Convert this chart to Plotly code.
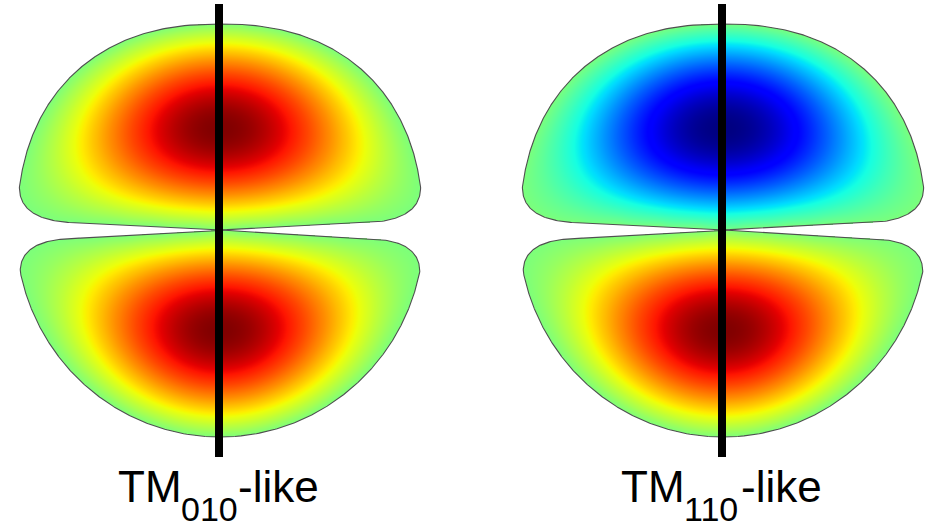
import numpy as np
import plotly.graph_objects as go

# ---- data ----
panel_cx = [220, 723]                      # horizontal centre of each panel (px)
label_main = ["TM", "TM"]
label_sub = ["010", "110"]
label_tail = ["-like", "-like"]
lobe_signs = [[1, 1], [-1, 1]]             # field sign of (upper, lower) lobe per panel
notch_y = 230
outer_a = {"upper": 203, "lower": 204}     # outer superellipse half-width
outer_b = {"upper": 206, "lower": 207}     # outer superellipse half-height
outer_n = {"upper": 2.3, "lower": 2.0}
corner_dy = {"upper": 43, "lower": 42}
notch_slope = {"upper": 0.05, "lower": 0.058}
corner_end = {"upper": 145, "lower": 150}
lobe_ref_y = {"upper": 130, "lower": 328}
axis_span = [4, 457]

# Liberation Sans advance widths (em)
adv = {"T": 0.611, "M": 0.833, "0": 0.556, "1": 0.556, "-": 0.333, "l": 0.222,
       "i": 0.222, "k": 0.5, "e": 0.556}
main_size = 44
sub_size = 34

# ---- matplotlib-like jet colorscale ----
def jet(v):
    r = np.interp(v, [0, 0.35, 0.66, 0.89, 1], [0, 0, 1, 1, 0.5])
    g = np.interp(v, [0, 0.125, 0.375, 0.64, 0.91, 1], [0, 0, 1, 1, 0, 0])
    b = np.interp(v, [0, 0.11, 0.34, 0.65, 1], [0.5, 1, 1, 0, 0])
    return r, g, b

cs = []
for v in np.linspace(0, 1, 81):
    r, g, b = jet(v)
    cs.append([float(v), f"rgb({int(round(r*255))},{int(round(g*255))},{int(round(b*255))})"])


def seg(p0, p1, n):
    t = np.linspace(0, 1, n)
    return p0[0] + (p1[0] - p0[0]) * t, p0[1] + (p1[1] - p0[1]) * t


def bez(p0, p1, p2, n):
    t = np.linspace(0, 1, n)
    x = (1 - t) ** 2 * p0[0] + 2 * (1 - t) * t * p1[0] + t ** 2 * p2[0]
    y = (1 - t) ** 2 * p0[1] + 2 * (1 - t) * t * p1[1] + t ** 2 * p2[1]
    return x, y


def lobe_polygon(cx, which):
    d = -1 if which == "upper" else 1
    a, b, n = outer_a[which], outer_b[which], outer_n[which]
    sl = notch_slope[which]
    cd = corner_dy[which]
    ce = corner_end[which]
    yl = lambda dx: notch_y + d * sl * abs(dx)
    dy = np.linspace(b, cd, 300)
    dxa = a * np.clip(1 - (dy / b) ** n, 0, 1) ** (1 / n)
    xw = dxa[-1]
    xs, ys = [], []
    xs.append(cx + dxa[::-1]); ys.append(notch_y + d * dy[::-1])
    xs.append(cx - dxa); ys.append(notch_y + d * dy)
    a_ = bez((cx - xw, notch_y + d * cd), (cx - xw - 0.5, yl(xw) - d * 1.0), (cx - ce, yl(ce)), 60)
    xs.append(a_[0]); ys.append(a_[1])
    a_ = seg((cx - ce, yl(ce)), (cx, notch_y), 150); xs.append(a_[0]); ys.append(a_[1])
    a_ = seg((cx, notch_y), (cx + ce, yl(ce)), 150); xs.append(a_[0]); ys.append(a_[1])
    a_ = bez((cx + ce, yl(ce)), (cx + xw + 0.5, yl(xw) - d * 1.0), (cx + xw, notch_y + d * cd), 60)
    xs.append(a_[0]); ys.append(a_[1])
    return np.concatenate(xs), np.concatenate(ys)


def inside(which, X, Y):
    px, py = lobe_polygon(0.0, which)
    cy = lobe_ref_y[which]
    ang = np.arctan2(py - cy, px)
    rad = np.hypot(px, py - cy)
    o = np.argsort(ang)
    rb = np.interp(np.arctan2(Y - cy, X), ang[o], rad[o], period=2 * np.pi)
    return np.hypot(X, Y - cy) / rb < 1.0


def lowest_mode(M):
    """Lowest Dirichlet Laplacian eigenmode on mask M (inverse iteration + CG)."""
    Mf = M.astype(float)

    def A(v):
        s = (np.roll(v, 1, 0) + np.roll(v, -1, 0) + np.roll(v, 1, 1) + np.roll(v, -1, 1))
        return (4 * v - s) * Mf

    u = Mf.copy()
    for _ in range(7):
        b = u
        x = np.zeros_like(b)
        r = b.copy()
        p = r.copy()
        rs = (r * r).sum()
        nb = np.sqrt(rs)
        for _i in range(3000):
            Ap = A(p)
            al = rs / (p * Ap).sum()
            x += al * p
            r -= al * Ap
            rsn = (r * r).sum()
            if np.sqrt(rsn) < 1e-6 * nb:
                break
            p = r + (rsn / rs) * p
            rs = rsn
        u = x / x.max()
    return u


# coarse grid (2 px) relative to panel centre
h = 2.0
xc = np.arange(-209, 211, h)
yc = np.arange(15, 449, h)
XC, YC = np.meshgrid(xc, yc)
# fine grid (1 px)
gxr = np.arange(-206, 207) + 0.5
gy = np.arange(18, 444) + 0.5
XF, YF = np.meshgrid(gxr, gy)

ix = (gxr - xc[0]) / h
i0 = np.clip(np.floor(ix).astype(int), 0, len(xc) - 2)
wx = ix - i0
iy = (gy - yc[0]) / h
j0 = np.clip(np.floor(iy).astype(int), 0, len(yc) - 2)
wy = iy - j0

modes = {}
masks = {}
for which in ["upper", "lower"]:
    U = lowest_mode(inside(which, XC, YC))
    F = U[:, i0] * (1 - wx) + U[:, i0 + 1] * wx
    G = F[j0, :] * (1 - wy)[:, None] + F[j0 + 1, :] * wy[:, None]
    modes[which] = G / G.max()
    masks[which] = inside(which, XF, YF)

fig = go.Figure()

for k, cx in enumerate(panel_cx):
    Z = np.full(XF.shape, np.nan)
    outlines = []
    for j, which in enumerate(["upper", "lower"]):
        M = masks[which]
        Z[M] = lobe_signs[k][j] * modes[which][M]
        outlines.append(lobe_polygon(cx, which))
    Z = np.round(Z, 3)
    fig.add_trace(go.Heatmap(x=gxr + cx, y=gy, z=Z, colorscale=cs, zmin=-1, zmax=1,
                             showscale=False, hoverinfo="skip"))
    for px, py in outlines:
        fig.add_trace(go.Scatter(x=np.append(px, px[0]), y=np.append(py, py[0]), mode="lines",
                                 line=dict(color="#505050", width=1.1), hoverinfo="skip",
                                 showlegend=False))
    fig.add_trace(go.Scatter(x=[cx - 1, cx - 1], y=axis_span, mode="lines",
                             line=dict(color="black", width=8), hoverinfo="skip", showlegend=False))

    w_main = sum(adv[c] for c in label_main[k]) * main_size
    w_sub = sum(adv[c] for c in label_sub[k]) * sub_size
    w_tail = sum(adv[c] for c in label_tail[k]) * main_size
    x0 = cx - 2 - (w_main + w_sub + w_tail) / 2
    base_main = 502
    base_sub = 521
    yc_main = base_main - 0.3465 * main_size
    yc_sub = base_sub - 0.3465 * sub_size
    font_main = dict(family="Liberation Sans, Arial", size=main_size, color="black")
    font_sub = dict(family="Liberation Sans, Arial", size=sub_size, color="black")
    for txt, xx, yy, fnt in [(label_main[k], x0, yc_main, font_main),
                             (label_sub[k], x0 + w_main, yc_sub, font_sub),
                             (label_tail[k], x0 + w_main + w_sub, yc_main, font_main)]:
        fig.add_annotation(x=xx, y=yy, text=txt, showarrow=False, xanchor="left",
                           yanchor="middle", borderpad=0, borderwidth=0, font=fnt)

fig.update_layout(width=935, height=529, margin=dict(l=0, r=0, t=0, b=0),
                  paper_bgcolor="white", plot_bgcolor="white", showlegend=False,
                  xaxis=dict(range=[0, 935], visible=False, fixedrange=True),
                  yaxis=dict(range=[529, 0], visible=False, fixedrange=True))
fig.write_html("out.html")
